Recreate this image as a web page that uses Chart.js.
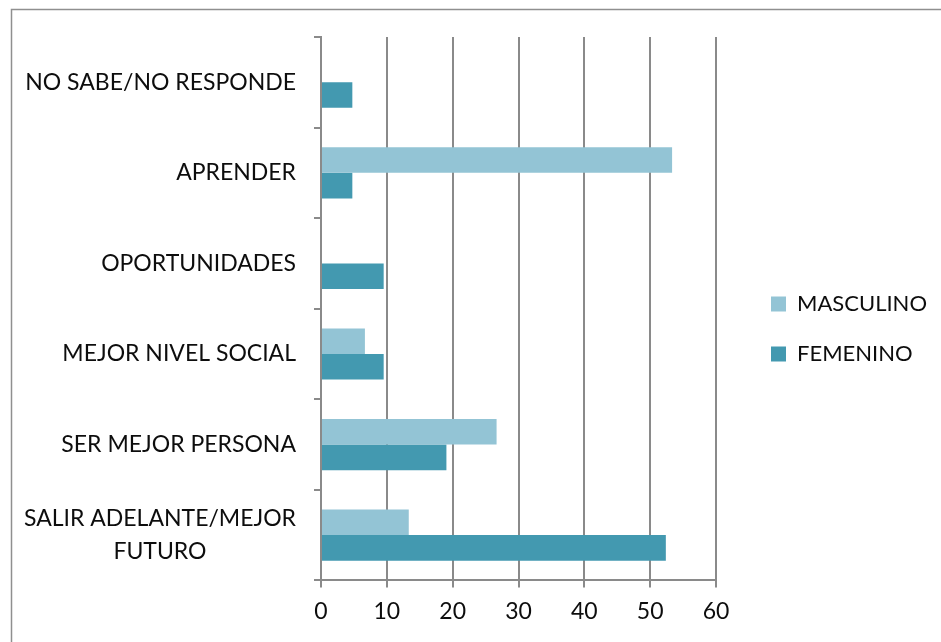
<!DOCTYPE html>
<html>
<head>
<meta charset="utf-8">
<script src="https://cdn.jsdelivr.net/npm/chart.js@4.4.0/dist/chart.umd.min.js"></script>
<style>
  html, body { margin: 0; padding: 0; background: #fff; overflow: hidden; }
  #wrap { position: relative; width: 941px; height: 642px; }
</style>
</head>
<body>
<div id="wrap"><canvas id="chart" width="941" height="642"></canvas></div>
<script>
// categories, listed top-down as they appear
const categories = [
  'NO SABE/NO RESPONDE',
  'APRENDER',
  'OPORTUNIDADES',
  'MEJOR NIVEL SOCIAL',
  'SER MEJOR PERSONA',
  ['SALIR ADELANTE/MEJOR', 'FUTURO']
];
const masculino = [0, 53.33, 0, 6.67, 26.67, 13.33];
const femenino = [4.76, 4.76, 9.52, 9.52, 19.05, 52.38];
const xTicks = [0, 10, 20, 30, 40, 50, 60];

const GRID = '#8a8a8a';
const FONT = 'Lato, "Open Sans", sans-serif';
const TEXT = '#0d0d0d';

// outer frame of the chart object (runs off the bottom/right of the picture)
const framePlugin = {
  id: 'frame',
  beforeDraw(chart) {
    const ctx = chart.ctx;
    ctx.save();
    ctx.strokeStyle = '#8f8f8f';
    ctx.lineWidth = 1.5;
    ctx.beginPath();
    ctx.moveTo(11.5, 700);
    ctx.lineTo(11.5, 9.5);
    ctx.lineTo(1000, 9.5);
    ctx.stroke();
    ctx.restore();
  }
};

// push the legend a bit further from the plot, like the original
const legendShift = {
  id: 'legendShift',
  afterLayout(chart) {
    const lg = chart.legend;
    if (!lg) return;
    const w = lg.width;
    lg.left = 743;
    lg.right = lg.left + w;
    lg.top -= 7;
    lg.bottom -= 7;
  }
};

// category labels: block right-aligned to the axis, wrapped lines centred
const yLabelPlugin = {
  id: 'yLabels',
  afterDraw(chart) {
    const ctx = chart.ctx;
    const y = chart.scales.y;
    const right = chart.chartArea.left - 25;
    ctx.save();
    ctx.font = '23px ' + FONT;
    ctx.fillStyle = TEXT;
    ctx.textBaseline = 'middle';
    ctx.textAlign = 'center';
    categories.forEach((lab, i) => {
      const lines = Array.isArray(lab) ? lab : [lab];
      const w = Math.max(...lines.map(l => ctx.measureText(l).width));
      const cx = right - w / 2;
      const lh = 33;
      const cy = y.getPixelForValue(i) - (lines.length - 1) * lh / 2;
      lines.forEach((l, k) => ctx.fillText(l, cx, cy + k * lh));
    });
    ctx.restore();
  }
};

new Chart(document.getElementById('chart'), {
  type: 'bar',
  data: {
    labels: categories,
    datasets: [{
      label: 'MASCULINO',
      data: masculino,
      backgroundColor: '#93C4D5'
    }, {
      label: 'FEMENINO',
      data: femenino,
      backgroundColor: '#4399B0'
    }]
  },
  options: {
    indexAxis: 'y',
    responsive: false,
    animation: false,
    layout: { padding: { top: 37, bottom: 7, left: 0, right: 31 } },
    datasets: {
      bar: { categoryPercentage: 0.565, barPercentage: 1.0, borderWidth: 0 }
    },
    scales: {
      x: {
        min: 0,
        max: 60,
        afterBuildTicks(scale) { scale.ticks = xTicks.map(v => ({ value: v })); },
        grid: { color: GRID, lineWidth: 2, tickLength: 7 },
        border: { color: GRID, width: 2 },
        ticks: { color: TEXT, font: { family: FONT, size: 23 }, padding: 10 }
      },
      y: {
        afterFit(scale) { scale.width = 321; },
        grid: { drawOnChartArea: false, color: GRID, lineWidth: 2, tickLength: 7 },
        border: { color: GRID, width: 2 },
        ticks: { display: false }
      }
    },
    plugins: {
      legend: {
        position: 'right',
        labels: {
          boxWidth: 15,
          boxHeight: 15,
          padding: 28,
          color: TEXT,
          font: { family: FONT, size: 22 }
        }
      },
      tooltip: { enabled: false }
    }
  },
  plugins: [framePlugin, legendShift, yLabelPlugin]
});
</script>
</body>
</html>
